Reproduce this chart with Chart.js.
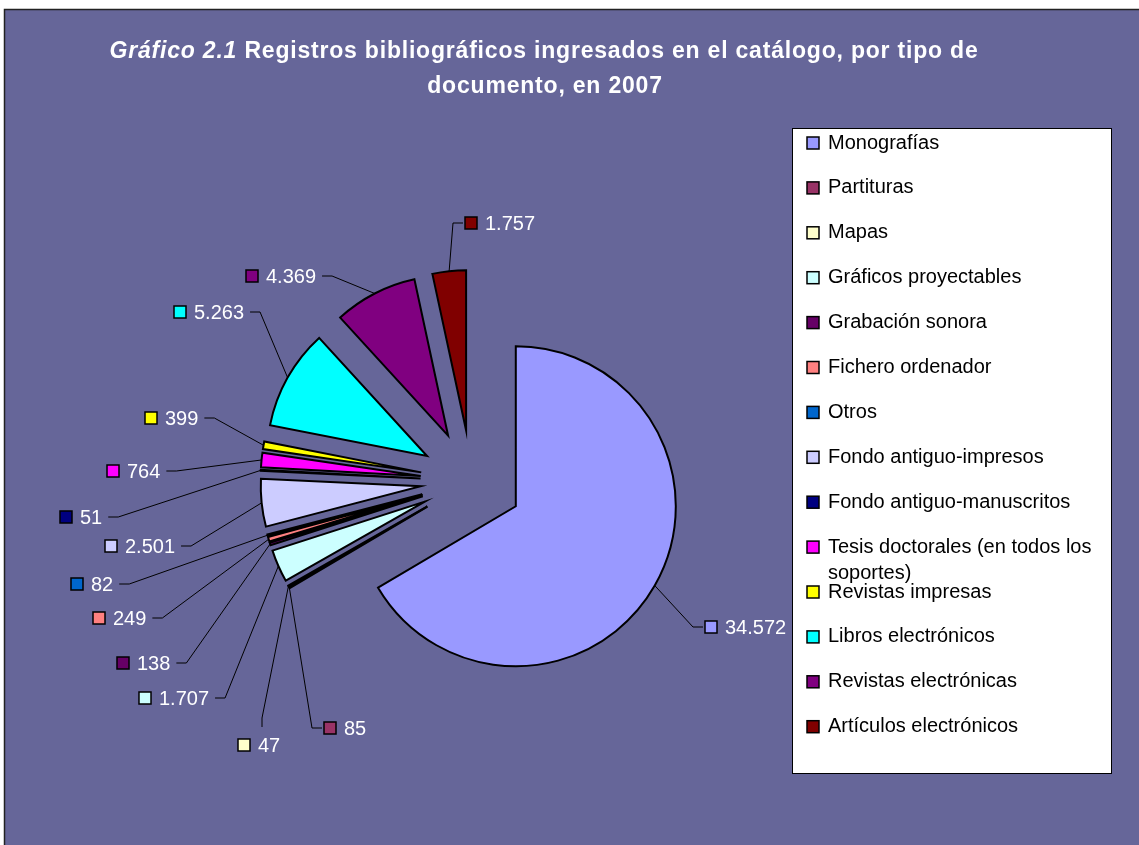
<!DOCTYPE html>
<html><head><meta charset="utf-8">
<script src="https://cdn.jsdelivr.net/npm/chart.js@4.4.0/dist/chart.umd.min.js"></script>
<style>html,body{margin:0;padding:0;background:#fff;overflow:hidden}canvas{display:block}</style>
</head><body>
<canvas id="c" width="1139" height="845"></canvas>
<script>
// ---- data ----
const categories = ['Monografías','Partituras','Mapas','Gráficos proyectables','Grabación sonora','Fichero ordenador','Otros','Fondo antiguo-impresos','Fondo antiguo-manuscritos','Tesis doctorales (en todos los soportes)','Revistas impresas','Libros electrónicos','Revistas electrónicas','Artículos electrónicos'];
const values = [34572, 85, 47, 1707, 138, 249, 82, 2501, 51, 764, 399, 5263, 4369, 1757];
const colors = ['#9999FF','#993366','#FFFFCC','#CCFFFF','#660066','#FF8080','#0066CC','#CCCCFF','#000080','#FF00FF','#FFFF00','#00FFFF','#800080','#800000'];
const titleItalic = 'Gráfico 2.1';
const titleRest = ' Registros bibliográficos ingresados en el catálogo, por tipo de';
const titleLine2 = 'documento, en 2007';

// ---- layout (label placement, like the hand-placed Excel labels) ----
const LABEL_LAYOUT = [
  {x:705, y:627, side:'right'},
  {x:324, y:728, side:'right'},
  {x:238, y:745, side:'below'},
  {x:139, y:698, side:'left'},
  {x:117, y:663, side:'left'},
  {x:93,  y:618, side:'left'},
  {x:71,  y:584, side:'left'},
  {x:105, y:546, side:'left'},
  {x:60,  y:517, side:'left'},
  {x:107, y:471, side:'left'},
  {x:145, y:418, side:'left'},
  {x:174, y:312, side:'left'},
  {x:246, y:276, side:'left'},
  {x:465, y:223, side:'right'}
];
const EXPLODE = 51;
const FONT = '"Liberation Sans", Arial, Helvetica, sans-serif';

function fmt(v){ return String(v).replace(/\B(?=(\d{3})+(?!\d))/g, '.'); }

const bgPlugin = {
  id:'bg',
  beforeDraw(chart){
    const ctx = chart.ctx;
    ctx.save();
    ctx.fillStyle = '#ffffff';
    ctx.fillRect(0,0,chart.width,chart.height);
    ctx.fillStyle = '#666699';
    ctx.fillRect(5,10,chart.width-5,chart.height-10);
    ctx.strokeStyle = '#222';
    ctx.lineWidth = 1.5;
    ctx.beginPath();
    ctx.moveTo(4.5, chart.height); ctx.lineTo(4.5, 9.5); ctx.lineTo(chart.width, 9.5);
    ctx.stroke();
    // title
    ctx.fillStyle = '#ffffff';
    ctx.textBaseline = 'middle';
    ctx.letterSpacing = '0.8px';
    const fI = 'italic bold 23px ' + FONT, fB = 'bold 23px ' + FONT;
    ctx.font = fI; const wI = ctx.measureText(titleItalic).width;
    ctx.font = fB; const wR = ctx.measureText(titleRest).width;
    const cx = 544;
    let x0 = cx - (wI + wR) / 2;
    ctx.font = fI; ctx.textAlign = 'left'; ctx.fillText(titleItalic, x0, 52);
    ctx.font = fB; ctx.fillText(titleRest, x0 + wI, 52);
    const w2 = ctx.measureText(titleLine2).width;
    ctx.fillText(titleLine2, cx + 1 - w2 / 2, 87);
    ctx.letterSpacing = '0px';
    // legend
    const lx = 792, ly = 128, lw = 319, lh = 645;
    ctx.fillStyle = '#ffffff';
    ctx.fillRect(lx, ly, lw, lh);
    ctx.strokeStyle = '#000'; ctx.lineWidth = 1;
    ctx.strokeRect(lx + 0.5, ly + 0.5, lw, lh);
    ctx.font = '20px ' + FONT; ctx.textAlign = 'left'; ctx.textBaseline = 'middle';
    const maxW = lx + lw - 828 - 6;
    categories.forEach((name, i) => {
      const y = 143 + i * 44.9;
      ctx.fillStyle = colors[i];
      ctx.fillRect(807, y - 6, 12, 12);
      ctx.strokeStyle = '#000'; ctx.lineWidth = 1.5;
      ctx.strokeRect(807, y - 6, 12, 12);
      ctx.fillStyle = '#000';
      const words = name.split(' ');
      let lines = [], cur = '';
      words.forEach(w => {
        const t = cur ? cur + ' ' + w : w;
        if (ctx.measureText(t).width > maxW && cur) { lines.push(cur); cur = w; } else cur = t;
      });
      lines.push(cur);
      lines.forEach((ln, k) => ctx.fillText(ln, 828, y + k * 26));
    });
    ctx.restore();
  }
};

const explodePlugin = {
  id:'explode',
  beforeDatasetsDraw(chart){
    const meta = chart.getDatasetMeta(0);
    const ca = chart.chartArea;
    const cx = (ca.left + ca.right) / 2, cy = (ca.top + ca.bottom) / 2;
    meta.data.forEach(arc => {
      const mid = (arc.startAngle + arc.endAngle) / 2;
      arc.x = cx + Math.cos(mid) * EXPLODE;
      arc.y = cy + Math.sin(mid) * EXPLODE;
    });
  }
};

const labelPlugin = {
  id:'labels',
  afterDatasetsDraw(chart){
    const ctx = chart.ctx;
    const meta = chart.getDatasetMeta(0);
    ctx.save();
    ctx.font = '20px ' + FONT;
    ctx.textBaseline = 'middle'; ctx.textAlign = 'left';
    meta.data.forEach((arc, i) => {
      const L = LABEL_LAYOUT[i];
      const mid = (arc.startAngle + arc.endAngle) / 2;
      const ex = arc.x + Math.cos(mid) * arc.outerRadius;
      const ey = arc.y + Math.sin(mid) * arc.outerRadius;
      const txt = fmt(values[i]);
      const tx = L.x + 12 + 8;
      const tw = ctx.measureText(txt).width;
      let sx, sy, bx, by;
      if (L.side === 'left') { sx = tx + tw + 6; sy = L.y; bx = sx + 10; by = sy; }
      else if (L.side === 'right') { sx = L.x - 2; sy = L.y; bx = sx - 10; by = sy; }
      else { sx = tx + 4; sy = L.y - 18; bx = sx; by = sy - 9; }
      ctx.strokeStyle = '#000'; ctx.lineWidth = 1;
      ctx.beginPath(); ctx.moveTo(sx, sy); ctx.lineTo(bx, by); ctx.lineTo(ex, ey); ctx.stroke();
      ctx.fillStyle = colors[i];
      ctx.fillRect(L.x, L.y - 6, 12, 12);
      ctx.strokeStyle = '#000'; ctx.lineWidth = 1.5;
      ctx.strokeRect(L.x, L.y - 6, 12, 12);
      ctx.fillStyle = '#ffffff';
      ctx.fillText(txt, tx, L.y + 1);
    });
    ctx.restore();
  }
};

new Chart(document.getElementById('c'), {
  type:'pie',
  data:{ labels: categories, datasets:[{ data: values, backgroundColor: colors, borderColor:'#000', borderWidth:2, borderJoinStyle:'miter' }] },
  options:{
    responsive:false, animation:false, events:[],
    radius:160,
    layout:{ padding:{ left:100, right:296, top:150, bottom:33 } },
    plugins:{ legend:{display:false}, title:{display:false}, tooltip:{enabled:false} }
  },
  plugins:[bgPlugin, explodePlugin, labelPlugin]
});
</script>
</body></html>
